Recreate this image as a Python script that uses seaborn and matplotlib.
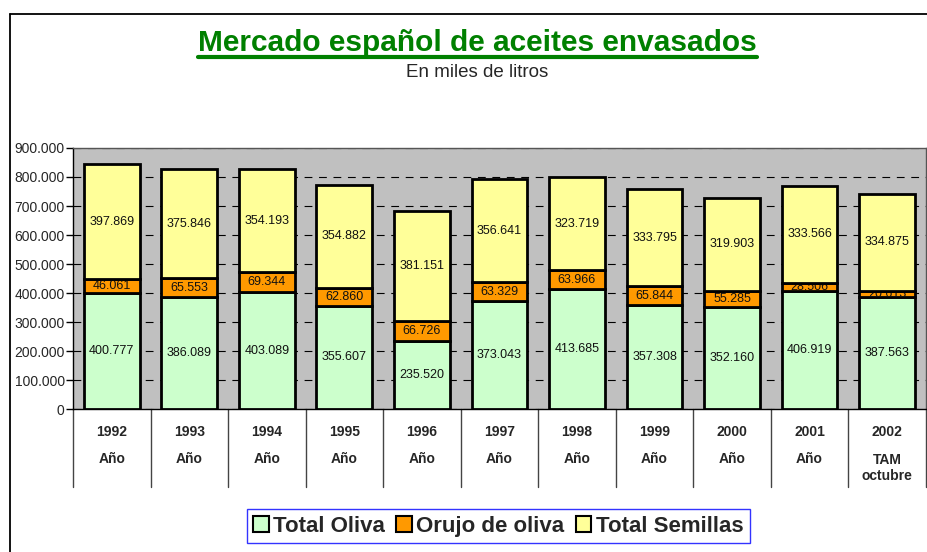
import matplotlib
matplotlib.use("Agg")
import matplotlib.pyplot as plt
import matplotlib.transforms as mtransforms
from matplotlib.lines import Line2D
from matplotlib.patches import Patch
import seaborn as sns

years = ["1992", "1993", "1994", "1995", "1996", "1997", "1998", "1999", "2000", "2001", "2002"]
periods = ["Año", "Año", "Año", "Año", "Año", "Año", "Año", "Año", "Año", "Año", "TAM\noctubre"]
total_oliva = [400777, 386089, 403089, 355607, 235520, 373043, 413685, 357308, 352160, 406919, 387563]
orujo_oliva = [46061, 65553, 69344, 62860, 66726, 63329, 63966, 65844, 55285, 28506, 20613]
total_semillas = [397869, 375846, 354193, 354882, 381151, 356641, 323719, 333795, 319903, 333566, 334875]

series = [
    ("Total Oliva", total_oliva, "#CCFFCC"),
    ("Orujo de oliva", orujo_oliva, "#FF9900"),
    ("Total Semillas", total_semillas, "#FFFF99"),
]


def miles(v):
    # spanish thousands separator
    return f"{v:,.0f}".replace(",", ".")


sns.set_style("white")
plt.rcParams["font.family"] = ["Liberation Sans", "DejaVu Sans"]

fig = plt.figure(figsize=(9.28, 5.52), dpi=100)
ax = fig.add_axes([0.0787, 0.259, 0.919, 0.4729])
ax.set_facecolor("#C0C0C0")

# stack the three series
bottom = [0] * len(years)
for name, vals, col in series:
    sns.barplot(x=years, y=vals, bottom=bottom, color=col, saturation=1,
                edgecolor="black", linewidth=2, width=0.72, ax=ax, zorder=3)
    ax.bar_label(ax.containers[-1], labels=[miles(v) for v in vals], label_type="center",
                 fontsize=9, color="#111111")
    bottom = [b + v for b, v in zip(bottom, vals)]

ax.set_ylim(0, 900000)
ax.set_xlim(-0.5, len(years) - 0.5)
ax.set_yticks(range(0, 900001, 100000))
ax.set_yticklabels([miles(v) for v in range(0, 900001, 100000)], fontsize=10)
ax.yaxis.grid(True, linestyle=(0, (7, 6)), color="black", linewidth=0.8)
ax.set_axisbelow(True)
ax.tick_params(axis="y", direction="out", length=5, width=1, color="black", pad=1, left=True)
ax.tick_params(axis="x", length=0, labelbottom=False)
ax.set_xlabel("")
ax.set_ylabel("")
for side in ["top", "right"]:
    ax.spines[side].set_color("#555555")
    ax.spines[side].set_linewidth(1)
for side in ["left", "bottom"]:
    ax.spines[side].set_color("black")
    ax.spines[side].set_linewidth(1)

# category axis: separators and two-line labels
trans = mtransforms.blended_transform_factory(ax.transData, ax.transAxes)
for i in range(len(years) + 1):
    ax.add_line(Line2D([i - 0.5, i - 0.5], [0, -0.30], transform=trans,
                       color="#444444", linewidth=1, clip_on=False))
for i, (yr, per) in enumerate(zip(years, periods)):
    ax.text(i, -0.088, yr, transform=trans, ha="center", va="center",
            fontsize=10, fontweight="bold")
    y_per = -0.226 if "\n" in per else -0.192
    ax.text(i, y_per, per, transform=trans, ha="center", va="center",
            fontsize=10, fontweight="bold", linespacing=1.25)

# title with underline
title = fig.text(0.5146, 0.923, "Mercado español de aceites envasados", ha="center", va="center",
                 fontsize=21.5, fontweight="bold", color="#008000")
fig.text(0.5146, 0.868, "En miles de litros", ha="center", va="center", fontsize=13.5)
fig.canvas.draw()
bb = title.get_window_extent().transformed(fig.transFigure.inverted())
fig.add_artist(Line2D([bb.x0, bb.x1], [bb.y0 - 0.001, bb.y0 - 0.001],
                      transform=fig.transFigure, color="#008000", linewidth=3))

# outer frame lines (top and left)
fig.add_artist(Line2D([0.011, 1.0], [0.975, 0.975], transform=fig.transFigure, color="black", linewidth=1.3))
fig.add_artist(Line2D([0.011, 0.011], [0.0, 0.975], transform=fig.transFigure, color="black", linewidth=1.3))

handles = [Patch(facecolor=c, edgecolor="black", linewidth=1.5, label=n) for n, _, c in series]
leg = fig.legend(handles=handles, loc="center", bbox_to_anchor=(0.537, 0.047), ncol=3,
                 frameon=True, fancybox=False, edgecolor="#0000FF",
                 prop={"weight": "bold", "size": 16}, handlelength=0.7, handleheight=0.7,
                 handletextpad=0.2, columnspacing=0.5, borderpad=0.3)
leg.get_frame().set_linewidth(1)

fig.savefig("out.png", dpi=100)
